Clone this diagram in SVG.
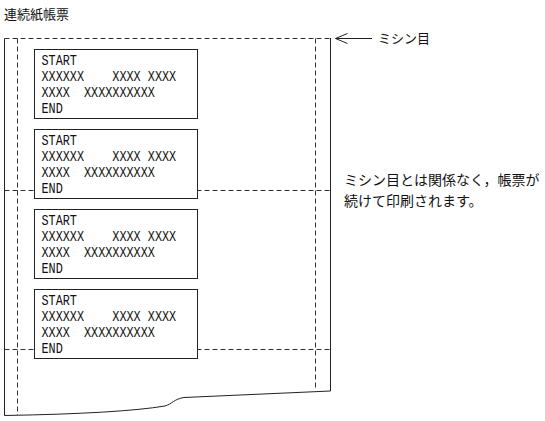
<svg xmlns="http://www.w3.org/2000/svg" width="545" height="421" viewBox="0 0 545 421">
<style>
.jp{font-family:"Noto Sans CJK JP","Liberation Sans",sans-serif;font-size:13px;fill:#111}
.note{font-size:14px}
.solid{fill:none;stroke:#222;stroke-width:1}
.dash{fill:none;stroke:#333;stroke-width:1;stroke-dasharray:5 3}
.box{fill:#fff;stroke:#222;stroke-width:1}
.mono{font-family:"Liberation Mono",monospace;font-size:15.5px;fill:#111;white-space:pre}
</style>
<defs>
<marker id="open" markerWidth="14" markerHeight="12" refX="13" refY="6" orient="auto" markerUnits="userSpaceOnUse">
<polyline points="1,1 13,6 1,11" fill="none" stroke="#222" stroke-width="1"/>
</marker>
</defs>
<rect width="545" height="421" fill="#fff"/>
<text class="jp" x="4" y="18.5">連続紙帳票</text>
<g id="paper">
<path class="solid" d="M4.5,38.5 V415.5"/>
<path class="solid" d="M330.5,38 V391"/>
<path class="solid" d="M4.5,415.5 Q120,413.5 165,406 C172,404 174,399 184,397.5 L330.5,391"/>
<path class="dash" d="M4.5,38.5 H330.5"/>
<path class="dash" d="M17.5,38.5 V415"/>
<path class="dash" d="M315.5,38.5 V390"/>
<path class="dash" d="M4.5,190.5 H330.5"/>
<path class="dash" d="M4.5,349.5 H330.5"/>
</g>
<g id="form1">
<rect class="box" x="34.5" y="49.5" width="163" height="69"/>
<g transform="translate(41.5,49.5) scale(0.763,1)"><text class="mono" x="0" y="16">START</text><text class="mono" x="0" y="32">XXXXXX    XXXX XXXX</text><text class="mono" x="0" y="48">XXXX  XXXXXXXXXX</text><text class="mono" x="0" y="64">END</text></g>
</g>
<g id="form2">
<rect class="box" x="34.5" y="129.5" width="163" height="69"/>
<g transform="translate(41.5,129.5) scale(0.763,1)"><text class="mono" x="0" y="16">START</text><text class="mono" x="0" y="32">XXXXXX    XXXX XXXX</text><text class="mono" x="0" y="48">XXXX  XXXXXXXXXX</text><text class="mono" x="0" y="64">END</text></g>
</g>
<g id="form3">
<rect class="box" x="34.5" y="209.5" width="163" height="69"/>
<g transform="translate(41.5,209.5) scale(0.763,1)"><text class="mono" x="0" y="16">START</text><text class="mono" x="0" y="32">XXXXXX    XXXX XXXX</text><text class="mono" x="0" y="48">XXXX  XXXXXXXXXX</text><text class="mono" x="0" y="64">END</text></g>
</g>
<g id="form4">
<rect class="box" x="34.5" y="289.5" width="163" height="69"/>
<g transform="translate(41.5,289.5) scale(0.763,1)"><text class="mono" x="0" y="16">START</text><text class="mono" x="0" y="32">XXXXXX    XXXX XXXX</text><text class="mono" x="0" y="48">XXXX  XXXXXXXXXX</text><text class="mono" x="0" y="64">END</text></g>
</g>
<g id="connectors">
<path class="solid" d="M372,38.5 H335.5" marker-end="url(#open)"/>
</g>
<g id="label-perforation">
<text class="jp" x="378" y="43">ミシン目</text>
</g>
<g id="note">
<text class="jp note"><tspan x="344" y="185">ミシン目とは関係なく，帳票が</tspan><tspan x="344" y="205.5">続けて印刷されます。</tspan></text>
</g>
</svg>
